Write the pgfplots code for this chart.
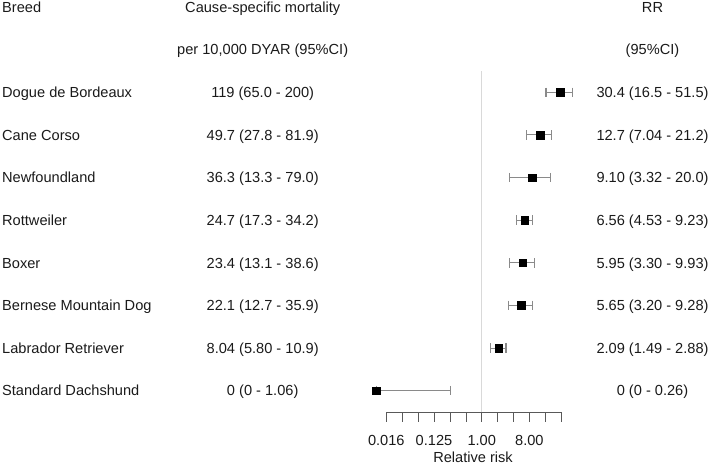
\documentclass[border=0pt]{standalone}
\usepackage{fontspec}
\setmainfont{Liberation Sans}
\usepackage{pgfplots}
\pgfplotsset{compat=1.18}
\definecolor{txt}{HTML}{1A1A1A}
\definecolor{ci}{HTML}{8A8A8A}
\definecolor{refl}{HTML}{D9D9D9}
\newcommand{\fs}{\fontsize{14.6}{17}\selectfont}
\begin{document}
\fs
\begin{tikzpicture}[x=1pt,y=1pt]
\path[use as bounding box] (0,0) rectangle (711,464);
\begin{axis}[
  at={(386.3pt,52pt)}, anchor=south west,
  scale only axis, width=174.9pt, height=341pt,
  xmode=log, log basis x=2,
  xmin=0.015625, xmax=32, ymin=0.5, ymax=8.5,
  axis x line*=bottom, axis y line=none, clip=false,
  xtick={0.015625,0.03125,0.0625,0.125,0.25,0.5,1,2,4,8,16,32},
  xticklabels={0.016,,,0.125,,,1.00,,,8.00,,},
  tick align=outside, major tick length=9.7pt,
  x axis line style={-, black!65, line width=0.6pt},
  xtick style={black!65, line width=0.6pt},
  xticklabel style={font=\fs, text=txt, yshift=-9pt},
  /pgf/number format/assume math mode=true,
]
% reference line at RR = 1
\addplot[refl, line width=0.8pt] coordinates {(1,0.5) (1,8.5)};
% confidence intervals
\addplot[ci, line width=1.1pt, mark=|, mark size=4.8pt, mark options={solid}] coordinates {(16.5,8) (51.5,8)};
\addplot[ci, line width=1.1pt, mark=|, mark size=4.8pt, mark options={solid}] coordinates {(7.04,7) (21.2,7)};
\addplot[ci, line width=1.1pt, mark=|, mark size=4.8pt, mark options={solid}] coordinates {(3.32,6) (20.0,6)};
\addplot[ci, line width=1.1pt, mark=|, mark size=4.8pt, mark options={solid}] coordinates {(4.53,5) (9.23,5)};
\addplot[ci, line width=1.1pt, mark=|, mark size=4.8pt, mark options={solid}] coordinates {(3.30,4) (9.93,4)};
\addplot[ci, line width=1.1pt, mark=|, mark size=4.8pt, mark options={solid}] coordinates {(3.20,3) (9.28,3)};
\addplot[ci, line width=1.1pt, mark=|, mark size=4.8pt, mark options={solid}] coordinates {(1.49,2) (2.88,2)};
\addplot[ci, line width=1.1pt, mark=|, mark size=4.8pt, mark options={solid}] coordinates {(0.01,1) (0.26,1)};
% point estimates
\addplot[only marks, mark=square*, mark size=3.8pt, black] coordinates {
(30.4,8) (12.7,7) (9.10,6) (6.56,5) (5.95,4) (5.65,3) (2.09,2) (0.01,1)};
\end{axis}
\begin{scope}[every node/.style={inner sep=0pt, text=txt}]
% headers
\node[anchor=base west] at (2,451.8) {Breed};
\node[anchor=base] at (262.7,451.8) {Cause-specific mortality};
\node[anchor=base] at (652.5,451.8) {RR};
\node[anchor=base] at (262.7,409.2) {per 10,000 DYAR (95\%CI)};
\node[anchor=base] at (652.5,409.2) {(95\%CI)};
% rows
\node[anchor=base west] at (2,366.5) {Dogue de Bordeaux};
\node[anchor=base] at (262.7,366.5) {119 (65.0 - 200)};
\node[anchor=base] at (652.5,366.5) {30.4 (16.5 - 51.5)};
\node[anchor=base west] at (2,323.9) {Cane Corso};
\node[anchor=base] at (262.7,323.9) {49.7 (27.8 - 81.9)};
\node[anchor=base] at (652.5,323.9) {12.7 (7.04 - 21.2)};
\node[anchor=base west] at (2,281.3) {Newfoundland};
\node[anchor=base] at (262.7,281.3) {36.3 (13.3 - 79.0)};
\node[anchor=base] at (652.5,281.3) {9.10 (3.32 - 20.0)};
\node[anchor=base west] at (2,238.7) {Rottweiler};
\node[anchor=base] at (262.7,238.7) {24.7 (17.3 - 34.2)};
\node[anchor=base] at (652.5,238.7) {6.56 (4.53 - 9.23)};
\node[anchor=base west] at (2,196.0) {Boxer};
\node[anchor=base] at (262.7,196.0) {23.4 (13.1 - 38.6)};
\node[anchor=base] at (652.5,196.0) {5.95 (3.30 - 9.93)};
\node[anchor=base west] at (2,153.4) {Bernese Mountain Dog};
\node[anchor=base] at (262.7,153.4) {22.1 (12.7 - 35.9)};
\node[anchor=base] at (652.5,153.4) {5.65 (3.20 - 9.28)};
\node[anchor=base west] at (2,110.8) {Labrador Retriever};
\node[anchor=base] at (262.7,110.8) {8.04 (5.80 - 10.9)};
\node[anchor=base] at (652.5,110.8) {2.09 (1.49 - 2.88)};
\node[anchor=base west] at (2,68.2) {Standard Dachshund};
\node[anchor=base] at (262.7,68.2) {0 (0 - 1.06)};
\node[anchor=base] at (652.5,68.2) {0 (0 - 0.26)};
% x label
\node[anchor=base] at (473,2) {Relative risk};
\end{scope}
\end{tikzpicture}
\end{document}
